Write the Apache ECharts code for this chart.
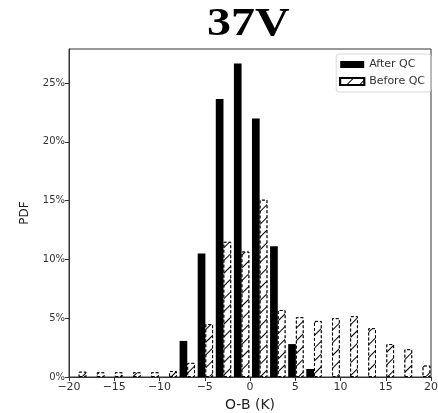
<!DOCTYPE html>
<html>
<head>
<meta charset="utf-8">
<script src="https://cdn.jsdelivr.net/npm/echarts@6/dist/echarts.min.js"></script>
<style>html,body{margin:0;padding:0;background:#fff}#c{width:438px;height:413px}</style>
</head>
<body>
<div id="c"></div>
<script>
var binCenters = [-18.93, -16.93, -14.93, -12.93, -10.93, -8.93, -6.93, -4.93, -2.93, -0.93,
                  1.07, 3.07, 5.07, 7.07, 9.07, 11.07, 13.07, 15.07, 17.07, 19.07];
var afterQC  = [0, 0, 0, 0, 0, 0, 3.07, 10.5, 23.65, 26.66, 21.98, 11.13, 2.8, 0.68, 0, 0, 0, 0, 0, 0];
var beforeQC = [0.45, 0.4, 0.4, 0.4, 0.4, 0.5, 1.2, 4.5, 11.5, 10.67, 15.08, 5.7, 5.08, 4.77, 5.0, 5.17, 4.15, 2.8, 2.36, 0.97];
var xTicks = [-20, -15, -10, -5, 0, 5, 10, 15, 20];
var yTicks = [0, 5, 10, 15, 20, 25];
var titleText = '37V';

function pairs(vals) { return binCenters.map(function (c, i) { return [c, vals[i]]; }); }

var chart = echarts.init(document.getElementById('c'), null, {renderer: 'canvas'});
var font = 'DejaVu Sans';
chart.setOption({
  animation: false,
  backgroundColor: '#fff',
  graphic: [{
    type: 'text', left: 207, top: 4, scaleX: 1.17, scaleY: 1,
    style: {text: titleText, fontFamily: 'Liberation Serif', fontWeight: 'bold', fontSize: 41, fill: '#000'}
  }],
  legend: {
    right: 7, top: 54, orient: 'vertical',
    itemWidth: 24, itemHeight: 7, itemGap: 6,
    padding: [5, 6, 5, 3],
    borderColor: '#d8d8d8', borderWidth: 1, borderRadius: 3,
    textStyle: {fontFamily: font, fontSize: 11, color: '#333'},
    data: [{name: 'After QC', icon: 'rect'}, {name: 'Before QC', icon: 'rect'}]
  },
  grid: {left: 69, right: 7, top: 49, bottom: 36, show: true, borderColor: '#333', borderWidth: 1,
         containLabel: false, outerBoundsMode: 'none'},
  xAxis: {
    type: 'value', min: -20, max: 20, interval: 5,
    name: 'O-B (K)', nameLocation: 'middle', nameGap: 20,
    nameTextStyle: {fontFamily: font, fontSize: 14, color: '#222'},
    axisLine: {show: true, onZero: false, lineStyle: {color: '#333'}},
    axisTick: {show: true, length: 4, lineStyle: {color: '#333'}, customValues: xTicks},
    axisLabel: {fontFamily: font, fontSize: 11, color: '#333', margin: 5, customValues: xTicks,
      formatter: function (v) { return String(v).replace('-', '\u2212'); }},
    splitLine: {show: false}
  },
  yAxis: {
    type: 'value', min: 0, max: 27.9, interval: 5,
    name: 'PDF', nameLocation: 'middle', nameGap: 38,
    nameTextStyle: {fontFamily: font, fontSize: 12, color: '#222'},
    axisLine: {show: true, onZero: false, lineStyle: {color: '#333'}},
    axisTick: {show: true, length: 4, lineStyle: {color: '#333'}, customValues: yTicks},
    axisLabel: {fontFamily: font, fontSize: 10, color: '#333', margin: 4, customValues: yTicks,
      formatter: function (v) { return v + '%'; }},
    splitLine: {show: false}
  },
  series: [
    {
      name: 'After QC', type: 'bar', data: pairs(afterQC),
      barWidth: 7.7, barGap: '0%',
      itemStyle: {color: '#000'}
    },
    {
      name: 'Before QC', type: 'bar', data: pairs(beforeQC),
      barWidth: 7.7, barGap: '0%',
      itemStyle: {
        color: '#fff', borderColor: '#000', borderWidth: 1, borderType: [3, 2],
        decal: {symbol: 'rect', color: '#000', backgroundColor: '#fff',
                dashArrayX: [1, 0], dashArrayY: [1, 8], rotation: -Math.PI / 4}
      }
    }
  ]
});
</script>
</body>
</html>
